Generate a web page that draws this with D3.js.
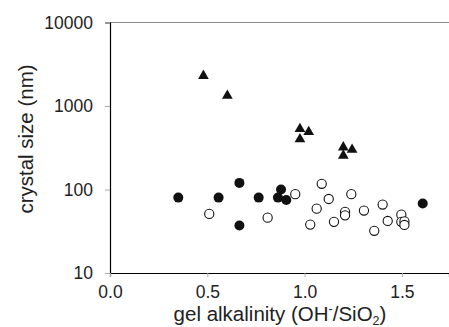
<!DOCTYPE html>
<html><head><meta charset="utf-8">
<script src="https://cdn.jsdelivr.net/npm/d3@7"></script>
<style>body{margin:0;background:#fff}svg{display:block}</style>
</head><body>
<script>
const xTicks = [0, 0.5, 1.0, 1.5];
const yTicks = [10, 100, 1000, 10000];
const triX = [0.480, 0.603, 0.976, 1.021, 0.976, 1.199, 1.244, 1.199];
const triY = [2300, 1330, 530, 490, 400, 320, 300, 255];
const filledX = [0.351, 0.558, 0.665, 0.665, 0.764, 0.863, 0.879, 0.906, 1.607];
const filledY = [80, 80, 120, 37, 80, 80, 100, 75, 68];
const openX = [0.510, 0.810, 0.952, 1.029, 1.062, 1.088, 1.124, 1.151, 1.208, 1.208, 1.240, 1.305, 1.358, 1.401, 1.427, 1.497, 1.497, 1.513, 1.513];
const openY = [51, 46, 88, 38, 59, 117, 77, 41, 54, 49, 88, 56, 32, 66, 42, 50, 41, 41.5, 37.6];

const W = 449, H = 327;
const svg = d3.select("body").append("svg").attr("width", W).attr("height", H);
const font = "'Liberation Sans', Arial, sans-serif";
const x = d3.scaleLinear().domain([0, 1.742]).range([110, 449]);
const y = d3.scaleLog().domain([10, 10000]).range([273, 22.5]);

// top border
svg.append("line").attr("x1", 110).attr("x2", 449).attr("y1", y(10000)).attr("y2", y(10000))
  .attr("stroke", "#888").attr("stroke-width", 1);

// y axis
const ya = svg.append("g").attr("transform", "translate(110,0)")
  .call(d3.axisLeft(y).tickValues(yTicks).tickFormat(d3.format("d")).tickSize(5).tickPadding(12));
ya.select(".domain").attr("stroke", "#000").attr("stroke-width", 1.2);
ya.selectAll(".tick line").attr("stroke", "#aaa");
ya.selectAll(".tick text").attr("font-family", font).attr("font-size", 17.5).attr("fill", "#222");

// x axis
const xa = svg.append("g").attr("transform", "translate(0,273)")
  .call(d3.axisBottom(x).tickValues(xTicks).tickFormat(d3.format(".1f")).tickSize(4).tickPadding(9));
xa.select(".domain").attr("stroke", "#000").attr("stroke-width", 1.2);
xa.selectAll(".tick line").attr("stroke", "#aaa");
xa.selectAll(".tick text").attr("font-family", font).attr("font-size", 17.5).attr("fill", "#222");

// axis titles
svg.append("text").attr("transform", "translate(33,139) rotate(-90)").attr("text-anchor", "middle")
  .attr("font-family", font).attr("font-size", 20.5).attr("fill", "#222").text("crystal size (nm)");
const xt = svg.append("text").attr("x", 280).attr("y", 321).attr("text-anchor", "middle")
  .attr("font-family", font).attr("font-size", 20.5).attr("fill", "#222");
xt.append("tspan").text("gel alkalinity (OH");
xt.append("tspan").attr("dy", -8).attr("font-size", 12.5).text("-");
xt.append("tspan").attr("dy", 8).text("/SiO");
xt.append("tspan").attr("dy", 3.5).attr("font-size", 12.5).text("2");
xt.append("tspan").attr("dy", -3.5).text(")");

// open circles
svg.append("g").selectAll("circle").data(openX.map((d, i) => [d, openY[i]])).join("circle")
  .attr("cx", d => x(d[0])).attr("cy", d => y(d[1])).attr("r", 4.6)
  .attr("fill", "#fff").attr("stroke", "#111").attr("stroke-width", 1.1);
// filled circles
svg.append("g").selectAll("circle").data(filledX.map((d, i) => [d, filledY[i]])).join("circle")
  .attr("cx", d => x(d[0])).attr("cy", d => y(d[1])).attr("r", 5)
  .attr("fill", "#111");
// triangles
const tri = d3.symbol().type(d3.symbolTriangle).size(50);
svg.append("g").selectAll("path").data(triX.map((d, i) => [d, triY[i]])).join("path")
  .attr("d", tri).attr("transform", d => `translate(${x(d[0])},${y(d[1])})`)
  .attr("fill", "#111");
</script>
</body></html>
